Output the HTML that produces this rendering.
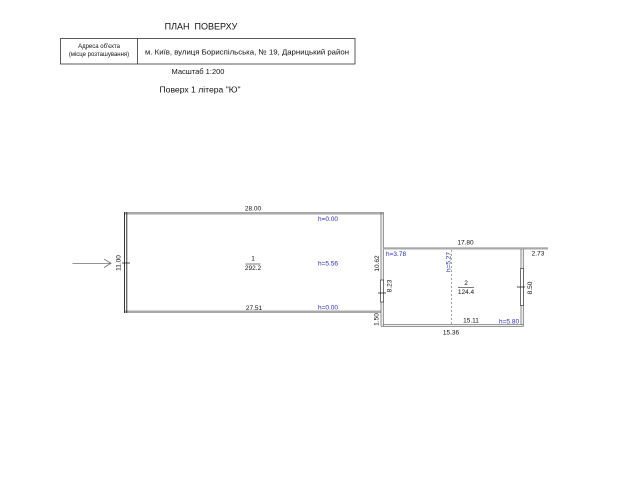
<!DOCTYPE html>
<html><head><meta charset="utf-8">
<style>
html,body{margin:0;padding:0;background:#fff;}
svg{display:block;}
text{font-family:"Liberation Sans",Arial,sans-serif;fill:#111;}
.b{fill:#2b2bb0;}
.d{font-size:6.5px;}
</style></head>
<body>
<svg width="640" height="480" viewBox="0 0 640 480" xmlns="http://www.w3.org/2000/svg">
<rect width="640" height="480" fill="#fff"/>
<!-- header -->
<text x="201" y="29.5" font-size="9" text-anchor="middle">ПЛАН&#160; ПОВЕРХУ</text>
<rect x="60.5" y="38.5" width="294.5" height="25.5" fill="none" stroke="#333" stroke-width="0.8"/>
<line x1="137.5" y1="38.5" x2="137.5" y2="64" stroke="#333" stroke-width="0.8"/>
<text x="99" y="48" font-size="6" text-anchor="middle">Адреса об'єкта</text>
<text x="99" y="56" font-size="6" text-anchor="middle">(місце розташування)</text>
<text x="145" y="54.5" font-size="7.6" textLength="204" lengthAdjust="spacingAndGlyphs">м. Київ, вулиця Бориспільська, № 19, Дарницький район</text>
<text x="198" y="74" font-size="7.5" text-anchor="middle">Масштаб 1:200</text>
<text x="200" y="92.5" font-size="8.6" text-anchor="middle">Поверх 1 літера "Ю"</text>

<!-- main room walls -->
<rect x="124" y="212" width="259" height="2.5" fill="#a9a9a9"/>
<rect x="124" y="310.5" width="257" height="2.5" fill="#a9a9a9"/>
<line x1="124.5" y1="212" x2="124.5" y2="313" stroke="#222" stroke-width="0.9"/>
<line x1="126.8" y1="212" x2="126.8" y2="313" stroke="#222" stroke-width="0.9"/>
<line x1="381" y1="212" x2="381" y2="326" stroke="#777" stroke-width="0.9"/>
<line x1="383.3" y1="212" x2="383.3" y2="326" stroke="#777" stroke-width="0.9"/>
<!-- door main right -->
<rect x="380.6" y="280" width="3" height="22" fill="#fff" stroke="#333" stroke-width="0.7"/>
<line x1="378" y1="293" x2="386" y2="293" stroke="#222" stroke-width="0.8"/>
<!-- left tick -->
<line x1="122" y1="263" x2="130" y2="263" stroke="#222" stroke-width="0.8"/>
<!-- arrow -->
<line x1="72.5" y1="263.3" x2="111" y2="263.3" stroke="#555" stroke-width="0.7"/>
<polyline points="104,259 111,263.3 104,267.6" fill="none" stroke="#555" stroke-width="0.7"/>

<!-- room 2 walls -->
<rect x="383" y="247.3" width="165" height="2.2" fill="#a9a9a9"/>
<line x1="383" y1="324.5" x2="523" y2="324.5" stroke="#777" stroke-width="0.8"/>
<line x1="381" y1="326.3" x2="523.5" y2="326.3" stroke="#777" stroke-width="0.8"/>
<line x1="521" y1="249" x2="521" y2="325" stroke="#777" stroke-width="0.9"/>
<line x1="523.3" y1="249" x2="523.3" y2="326.5" stroke="#777" stroke-width="0.9"/>
<rect x="520.5" y="268.5" width="3" height="37" fill="#fff" stroke="#333" stroke-width="0.7"/>
<line x1="517" y1="287" x2="525" y2="287" stroke="#222" stroke-width="0.8"/>
<!-- dashed -->
<line x1="451.5" y1="250" x2="451.5" y2="324" stroke="#999" stroke-width="0.9" stroke-dasharray="2,2"/>

<!-- labels main -->
<text class="d" x="253" y="210.5" text-anchor="middle">28.00</text>
<text class="d b" x="328" y="221" text-anchor="middle">h=0.00</text>
<text class="d" x="253" y="260.5" text-anchor="middle">1</text>
<line x1="245.5" y1="264" x2="260.5" y2="264" stroke="#222" stroke-width="0.6"/>
<text class="d" x="253" y="270" text-anchor="middle">292.2</text>
<text class="d b" x="328" y="265.5" text-anchor="middle">h=5.56</text>
<text class="d" x="254" y="310" text-anchor="middle">27.51</text>
<text class="d b" x="328" y="309.5" text-anchor="middle">h=0.00</text>
<text class="d" x="0" y="0" text-anchor="middle" transform="translate(120.5,263) rotate(-90)">11.00</text>
<text class="d" x="0" y="0" text-anchor="middle" transform="translate(379,263.5) rotate(-90)">10.62</text>
<text class="d" x="0" y="0" text-anchor="middle" transform="translate(391.5,286) rotate(-90)">8.23</text>
<text class="d" x="0" y="0" text-anchor="middle" transform="translate(378.5,319.5) rotate(-90)">1.50</text>

<!-- labels room 2 -->
<text class="d b" x="386" y="256">h=3.78</text>
<text class="d" x="465.5" y="244.5" text-anchor="middle">17.80</text>
<text class="d" x="538" y="255.5" text-anchor="middle">2.73</text>
<text class="d b" x="0" y="0" text-anchor="middle" transform="translate(450.5,262) rotate(-90)">h=5.27</text>
<text class="d" x="466" y="285" text-anchor="middle">2</text>
<line x1="458" y1="287.5" x2="474" y2="287.5" stroke="#222" stroke-width="0.6"/>
<text class="d" x="466" y="294" text-anchor="middle">124.4</text>
<text class="d" x="0" y="0" text-anchor="middle" transform="translate(532,288) rotate(-90)">8.50</text>
<text class="d" x="471" y="322.5" text-anchor="middle">15.11</text>
<text class="d b" x="499" y="323.5">h=5.80</text>
<text class="d" x="451" y="334.5" text-anchor="middle">15.36</text>
</svg>
</body></html>
